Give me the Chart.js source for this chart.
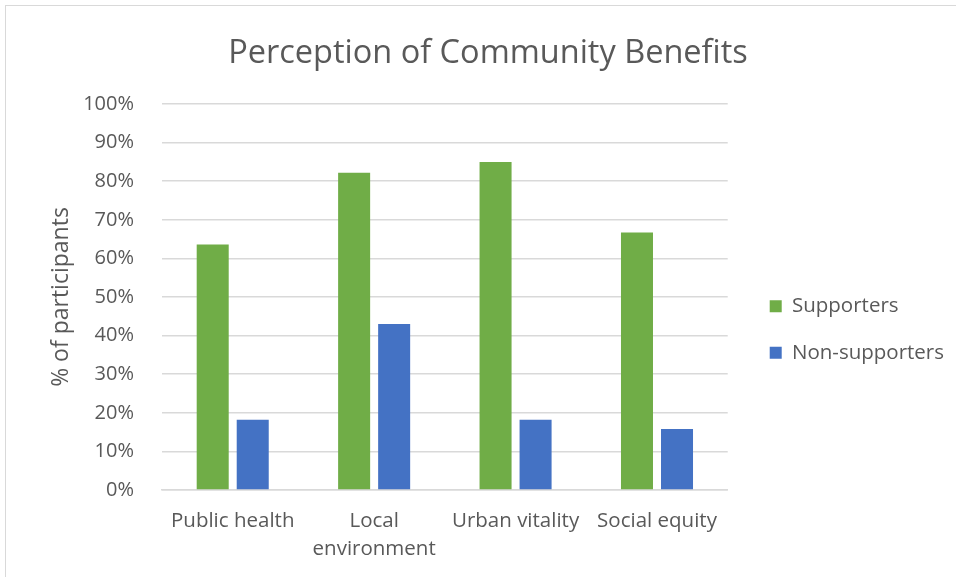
<!DOCTYPE html>
<html><head><meta charset="utf-8">
<script src="https://cdn.jsdelivr.net/npm/chart.js@4"></script>
<style>
html,body{margin:0;padding:0;background:#fff;}
#wrap{position:absolute;left:0;top:0;width:956px;height:577px;}
#frame{position:absolute;left:5px;top:5px;width:960px;height:580px;border:1px solid #d9d9d9;box-sizing:border-box;}
</style></head>
<body>
<div id="frame"></div>
<div id="wrap"><canvas id="c" width="956" height="577"></canvas></div>
<script>
const categories = ['Public health', ['Local', 'environment'], 'Urban vitality', 'Social equity'];
const supporters = [63.6, 82.2, 85.0, 66.7];
const nonSupporters = [18.2, 43.0, 18.2, 15.8];
const seriesNames = ['Supporters', 'Non-supporters'];
const yTicks = [0, 10, 20, 30, 40, 50, 60, 70, 80, 90, 100];

const FONT = "'Open Sans', 'Liberation Sans', sans-serif";
const TXT = '#595959';

// nudge the legend block (offset from its fitted position)
const legendShift = {
  id: 'legendShift',
  afterLayout(chart) {
    const l = chart.legend;
    if (!l) return;
    const dx = 16, dy = 37.5;
    l.left += dx; l.right += dx; l.top += dy; l.bottom += dy;
  }
};

new Chart(document.getElementById('c'), {
  type: 'bar',
  data: {
    labels: categories,
    datasets: [
      { label: seriesNames[0], data: supporters, backgroundColor: '#70AD47', borderWidth: 0, barPercentage: 0.8, categoryPercentage: 0.566 },
      { label: seriesNames[1], data: nonSupporters, backgroundColor: '#4472C4', borderWidth: 0, barPercentage: 0.8, categoryPercentage: 0.566 }
    ]
  },
  plugins: [legendShift],
  options: {
    responsive: false,
    animation: false,
    devicePixelRatio: 1,
    layout: { padding: { left: 38, right: 18, top: 20, bottom: 13 } },
    plugins: {
      title: { display: true, text: 'Perception of Community Benefits', color: TXT,
        font: { family: FONT, size: 32.5, weight: 'normal' }, padding: { top: 14, bottom: 31 } },
      legend: { position: 'right', align: 'center',
        labels: { color: TXT, font: { family: FONT, size: 20.5 }, boxWidth: 12, boxHeight: 12, padding: 26 } },
      tooltip: { enabled: false }
    },
    scales: {
      x: {
        afterFit: (s) => { s.height = 74; },
        grid: { display: false, drawTicks: false },
        border: { color: '#d9d9d9', width: 1.5 },
        ticks: { color: TXT, font: { family: FONT, size: 20.5, lineHeight: 1.4 }, padding: 16.6, maxRotation: 0, autoSkip: false }
      },
      y: {
        min: 0, max: 100,
        afterBuildTicks: (s) => { s.ticks = yTicks.map(v => ({ value: v })); },
        afterFit: (s) => { s.width = 124; },
        grid: { color: '#d9d9d9', lineWidth: 1.5, drawTicks: false },
        border: { display: false },
        ticks: { color: TXT, font: { family: FONT, size: 20 }, padding: 28, callback: v => v + '%' },
        title: { display: true, text: '% of participants', color: TXT, font: { family: FONT, size: 23 }, padding: { top: 10, bottom: 7 } }
      }
    }
  }
});
</script>
</body></html>
